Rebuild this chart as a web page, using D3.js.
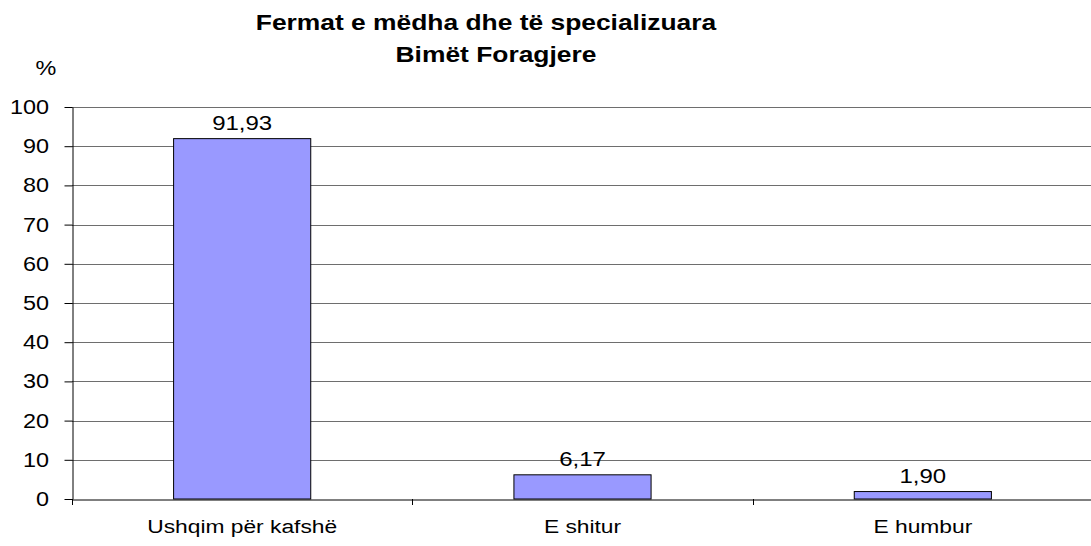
<!DOCTYPE html>
<html>
<head>
<meta charset="utf-8">
<script src="https://cdn.jsdelivr.net/npm/d3@7"></script>
<style>
  html, body { margin: 0; padding: 0; background: #fff; }
  svg { display: block; font-family: "Liberation Sans", Arial, sans-serif; }
</style>
</head>
<body>
<svg id="chart" width="1091" height="546"></svg>
<script>
const categories = ["Ushqim për kafshë", "E shitur", "E humbur"];
const values = [91.93, 6.17, 1.90];
const valueLabels = ["91,93", "6,17", "1,90"];
const yTicks = [0, 10, 20, 30, 40, 50, 60, 70, 80, 90, 100];
const titleLines = ["Fermat e mëdha dhe të specializuara", "Bimët Foragjere"];
const yUnit = "%";

(function () {
const svg = d3.select("#chart");
const mLeft = 72, mRight = 1093, mTop = 107, mBottom = 499;
const SX = 1.2;

const x = d3.scaleBand().domain(categories).range([mLeft, mRight]).padding(0);
const y = d3.scaleLinear().domain([0, 100]).range([mBottom, mTop]);

function txt(g, s, px, py, size, anchor, weight, sx) {
  return g.append("text")
    .attr("transform", `translate(${px},${py}) scale(${sx || SX},1)`)
    .attr("text-anchor", anchor)
    .attr("font-size", size)
    .attr("font-weight", weight || "normal")
    .attr("fill", "#000")
    .text(s);
}

// gridlines
svg.append("g").selectAll("line").data(yTicks.filter(d => d > 0)).join("line")
  .attr("x1", mLeft).attr("x2", mRight)
  .attr("y1", d => Math.round(y(d)) + 0.5).attr("y2", d => Math.round(y(d)) + 0.5)
  .attr("stroke", "#6e6e6e").attr("stroke-width", 1);

// bars
const bw = x.bandwidth() * 0.403;
svg.append("g").selectAll("rect").data(values).join("rect")
  .attr("x", (d, i) => x(categories[i]) + x.bandwidth() / 2 - bw / 2)
  .attr("y", d => y(d))
  .attr("width", bw)
  .attr("height", d => mBottom - y(d))
  .attr("fill", "#9999FF")
  .attr("stroke", "#000").attr("stroke-width", 1);

// y axis
const yAxis = svg.append("g").attr("transform", `translate(${mLeft + 0.5},0)`)
  .call(d3.axisLeft(y).tickValues(yTicks).tickSize(8).tickSizeOuter(0).tickFormat(d3.format("d")));
yAxis.select(".domain").attr("stroke", "#000");
yAxis.selectAll(".tick line").attr("stroke", "#000");
yAxis.selectAll(".tick text").remove();
const yl = svg.append("g");
yTicks.forEach(t => txt(yl, String(t), 49, y(t) + 7, 19.5, "end"));

// x axis
const xAxis = svg.append("g").attr("transform", `translate(0,${mBottom + 0.5})`)
  .call(d3.axisBottom(x).tickSize(0).tickFormat(""));
xAxis.select(".domain").attr("stroke", "#000");
svg.append("g").selectAll("line").data(categories).join("line")
  .attr("x1", d => Math.round(x(d)) + 0.5).attr("x2", d => Math.round(x(d)) + 0.5)
  .attr("y1", mBottom).attr("y2", mBottom + 6)
  .attr("stroke", "#000");
const xl = svg.append("g");
categories.forEach(c => txt(xl, c, x(c) + x.bandwidth() / 2, 533, 19, "middle"));

// value labels
const vl = svg.append("g");
values.forEach((v, i) => txt(vl, valueLabels[i], x(categories[i]) + x.bandwidth() / 2, y(v) - 9, 20, "middle"));

// title
const tg = svg.append("g");
txt(tg, titleLines[0], 486, 30, 22, "middle", "bold");
txt(tg, titleLines[1], 496, 62, 22, "middle", "bold");

// unit
txt(svg, yUnit, 46, 75, 19.5, "middle");
})();
</script>
</body>
</html>
